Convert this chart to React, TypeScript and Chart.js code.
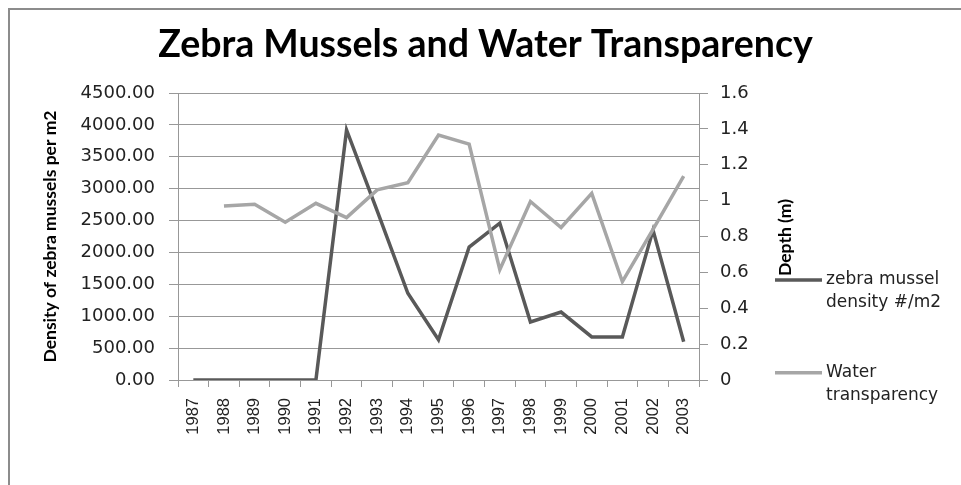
import { useEffect, useRef } from "react";
import { Chart, registerables } from "chart.js";

Chart.register(...registerables);

const years = ["1987", "1988", "1989", "1990", "1991", "1992", "1993", "1994", "1995", "1996", "1997", "1998", "1999", "2000", "2001", "2002", "2003"];
const musselDensity = [0, 0, 0, 0, 0, 3920, 2650, 1360, 630, 2085, 2460, 910, 1065, 675, 675, 2350, 600];
const waterTransparency = [null, 0.97, 0.98, 0.88, 0.985, 0.905, 1.06, 1.1, 1.365, 1.315, 0.615, 0.995, 0.85, 1.04, 0.548, 0.84, 1.137];

const titleText = "Zebra Mussels and Water Transparency";
const leftAxisTitle = "Density of zebra mussels per m2";
const rightAxisTitle = "Depth (m)";
const musselLabel = "zebra mussel density #/m2";
const waterLabel = "Water transparency";

const DARK = "#595959";
const LIGHT = "#a6a6a6";
const GRID = "#989898";

function wrap(ctx: CanvasRenderingContext2D, text: string, maxW: number): string[] {
  const words = text.split(" ");
  const lines: string[] = [];
  let cur = "";
  for (const w of words) {
    const test = cur ? cur + " " + w : w;
    if (cur && ctx.measureText(test).width > maxW) {
      lines.push(cur);
      cur = w;
    } else {
      cur = test;
    }
  }
  if (cur) lines.push(cur);
  return lines;
}

const sidePlugin = {
  id: "sideLegend",
  afterDraw(chart: any) {
    const ctx: CanvasRenderingContext2D = chart.ctx;
    ctx.save();
    // right axis title (reads bottom to top)
    ctx.font = "bold 17.5px Lato";
    ctx.fillStyle = "#000";
    ctx.textAlign = "center";
    ctx.textBaseline = "middle";
    ctx.translate(775, 227.5);
    ctx.rotate(-Math.PI / 2);
    ctx.fillText(rightAxisTitle, 0, 0);
    ctx.restore();

    ctx.save();
    ctx.font = "17px 'DejaVu Sans'";
    ctx.textAlign = "left";
    ctx.textBaseline = "middle";
    const items = chart.data.datasets.map((ds: any, i: number) => ({
      label: ds.label,
      color: ds.borderColor,
      y: i === 0 ? 270 : 362.7,
    }));
    for (const it of items) {
      ctx.strokeStyle = it.color;
      ctx.lineWidth = 3.5;
      ctx.beginPath();
      ctx.moveTo(765, it.y);
      ctx.lineTo(812, it.y);
      ctx.stroke();
      ctx.fillStyle = "#222";
      const lines = wrap(ctx, it.label, 128);
      lines.forEach((ln, k) => ctx.fillText(ln, 816, it.y + k * 22.7));
    }
    ctx.restore();
  },
};

export default function App() {
  const ref = useRef<HTMLCanvasElement | null>(null);

  useEffect(() => {
    if (!ref.current) return;
    const chart = new Chart(ref.current, {
      type: "line",
      data: {
        labels: years,
        datasets: [
          {
            label: musselLabel,
            data: musselDensity,
            yAxisID: "y",
            borderColor: DARK,
            backgroundColor: DARK,
            borderWidth: 3.5,
            pointRadius: 0,
            tension: 0,
            order: 1,
          },
          {
            label: waterLabel,
            data: waterTransparency,
            yAxisID: "y1",
            borderColor: LIGHT,
            backgroundColor: LIGHT,
            borderWidth: 3.5,
            pointRadius: 0,
            tension: 0,
            spanGaps: false,
            order: 0,
          },
        ],
      },
      options: {
        animation: false,
        responsive: false,
        maintainAspectRatio: false,
        devicePixelRatio: 1,
        layout: { padding: 0 },
        plugins: {
          legend: { display: false },
          tooltip: { enabled: false },
          title: {
            display: true,
            text: titleText,
            color: "#000",
            font: { family: "Lato", weight: "bold", size: 37.5 },
            padding: { top: 12.5, bottom: 25.5 },
          },
        },
        scales: {
          x: {
            type: "category",
            offset: true,
            grid: { offset: true, drawOnChartArea: false, drawTicks: true, tickLength: 7, color: GRID },
            border: { display: true, color: GRID },
            ticks: {
              autoSkip: false,
              minRotation: 90,
              maxRotation: 90,
              padding: 11,
              color: "#222",
              font: { family: "Liberation Sans", size: 16.5 },
            },
            afterFit: (s: any) => {
              s.height = 105;
            },
          },
          y: {
            position: "left",
            min: 0,
            max: 4500,
            ticks: {
              stepSize: 500,
              padding: 14,
              color: "#222",
              font: { family: "DejaVu Sans", size: 18 },
              callback: (v: any) => Number(v).toFixed(2),
            },
            grid: { color: GRID, tickLength: 9, drawTicks: true },
            border: { display: true, color: GRID },
            title: {
              display: true,
              text: leftAxisTitle,
              color: "#000",
              font: { family: "Lato", weight: "bold", size: 17.5 },
              padding: { top: 29.5, bottom: 0 },
            },
            afterFit: (s: any) => {
              s.width = 168;
            },
          },
          y1: {
            position: "right",
            min: 0,
            max: 1.6,
            ticks: {
              stepSize: 0.2,
              padding: 12,
              color: "#222",
              font: { family: "DejaVu Sans", size: 18 },
              callback: (v: any) => String(Number(Number(v).toFixed(1))),
            },
            grid: { drawOnChartArea: false, drawTicks: true, tickLength: 9, color: GRID },
            border: { display: true, color: GRID },
            afterFit: (s: any) => {
              s.width = 262;
            },
          },
        },
      },
      plugins: [sidePlugin],
    } as any);
    return () => chart.destroy();
  }, []);

  return (
    <div style={{ position: "fixed", left: 0, top: 0, width: 961, height: 485, overflow: "hidden", background: "#fff" }}>
      <div
        style={{
          position: "absolute",
          left: 8,
          top: 8,
          width: 951,
          height: 475,
          borderTop: "2px solid #8c8c8c",
          borderLeft: "2px solid #8c8c8c",
        }}
      >
        <canvas ref={ref} width={951} height={475} style={{ display: "block", width: 951, height: 475 }} />
      </div>
    </div>
  );
}
